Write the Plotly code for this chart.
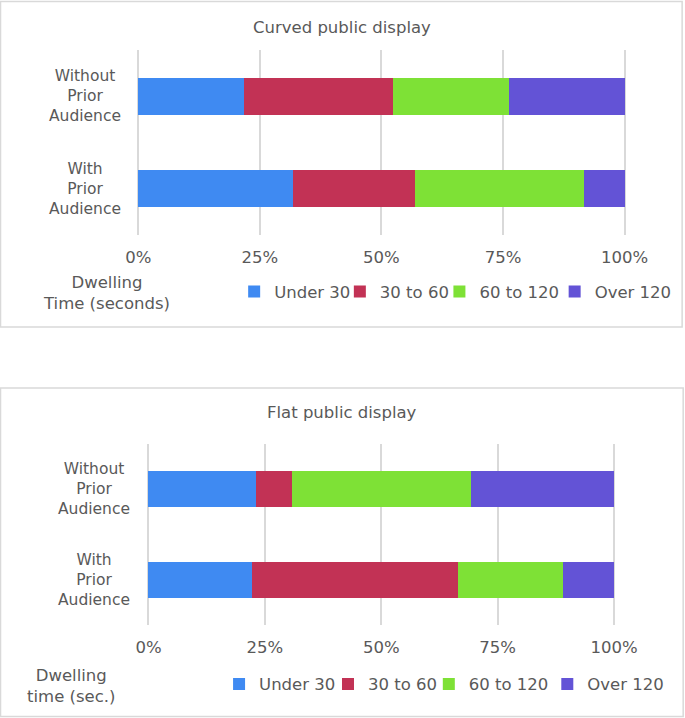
import plotly.graph_objects as go

W, H = 720, 718

categories = ["Without Prior Audience", "With Prior Audience"]
cat_labels = ["Without<br>Prior<br>Audience", "With<br>Prior<br>Audience"]
series_names = ["Under 30", "30 to 60", "60 to 120", "Over 120"]
series_colors = ["#3F8AF2", "#C23255", "#7EE136", "#6353D6"]
tick_vals = [0, 25, 50, 75, 100]
tick_text = ["0%", "25%", "50%", "75%", "100%"]

# percent of visitors, [without prior audience, with prior audience]
curved_under30 = [21.8, 31.8]
curved_30_60 = [30.5, 25.2]
curved_60_120 = [23.9, 34.6]
curved_over120 = [23.8, 8.4]

flat_under30 = [23.0, 22.2]
flat_30_60 = [7.8, 44.4]
flat_60_120 = [38.4, 22.4]
flat_over120 = [30.8, 11.0]

curved = [curved_under30, curved_30_60, curved_60_120, curved_over120]
flat = [flat_under30, flat_30_60, flat_60_120, flat_over120]

TXT = "#595959"
GRID = "#D9D9D9"
FONT = "DejaVu Sans"

# legend swatch centres (px)
leg_x_top = [275.5, 386.1, 490.3, 610.9]
leg_x_bot = [259.7, 373.7, 479.2, 603.2]


def px(x):
    return x / W


def py(y):
    return 1 - y / H


fig = go.Figure()

legends = {}
for i, (vals, name, col) in enumerate(zip(curved, series_names, series_colors)):
    key = "legend" if i == 0 else f"legend{i + 1}"
    fig.add_trace(go.Bar(
        y=categories, x=vals, name=name, orientation="h",
        marker=dict(color=col, line=dict(width=0)),
        xaxis="x", yaxis="y", legend=key,
    ))
    legends[key] = dict(x=px(leg_x_top[i] - 29.4), y=py(291.7))

for i, (vals, name, col) in enumerate(zip(flat, series_names, series_colors)):
    key = f"legend{i + 5}"
    fig.add_trace(go.Bar(
        y=categories, x=vals, name=name, orientation="h",
        marker=dict(color=col, line=dict(width=0)),
        xaxis="x2", yaxis="y2", legend=key,
    ))
    legends[key] = dict(x=px(leg_x_bot[i] - 29.4), y=py(684.3))

for key in legends:
    legends[key].update(orientation="h", xanchor="left", yanchor="middle",
                        font=dict(size=16.5, color=TXT), itemwidth=30,
                        bgcolor="rgba(0,0,0,0)")

xcommon = dict(
    tickmode="array", tickvals=tick_vals, ticktext=tick_text,
    showgrid=True, gridcolor=GRID, gridwidth=1.5,
    zeroline=False, showline=False,
    ticks="outside", ticklen=7.5, tickcolor="rgba(0,0,0,0)",
    tickfont=dict(size=16.5, color=TXT),
)
ycommon = dict(
    categoryorder="array", categoryarray=categories, autorange="reversed",
    showticklabels=False, showgrid=False, zeroline=False, showline=False,
)

annotations = [
    dict(text="Curved public display", x=px(359.0), y=py(27.5)),
    dict(text="Flat public display", x=px(359.2), y=py(412.7)),
    dict(text="Dwelling<br>Time (seconds)", x=px(112.2), y=py(293)),
    dict(text="Dwelling<br>time (sec.)", x=px(75.5), y=py(685.5)),
]
for a in annotations:
    a.update(xref="paper", yref="paper", showarrow=False, align="center",
             xanchor="center", yanchor="middle",
             font=dict(size=16.5, color=TXT, family=FONT))

for cat, lab in zip(categories, cat_labels):
    annotations.append(dict(text=lab, x=px(90.1), y=cat, xref="paper", yref="y",
                            showarrow=False, align="center", xanchor="center",
                            yanchor="middle", font=dict(size=15.5, color=TXT, family=FONT)))
    annotations.append(dict(text=lab, x=px(99.6), y=cat, xref="paper", yref="y2",
                            showarrow=False, align="center", xanchor="center",
                            yanchor="middle", font=dict(size=15.5, color=TXT, family=FONT)))

shapes = [
    dict(type="rect", xref="paper", yref="paper",
         x0=px(1.6), x1=px(714.9), y0=py(327), y1=py(1.5),
         line=dict(color=GRID, width=1.5)),
    dict(type="rect", xref="paper", yref="paper",
         x0=px(1.6), x1=px(716), y0=py(716.5), y1=py(388),
         line=dict(color=GRID, width=1.5)),
]

# x range padded a hair so the 0% and 100% gridlines are kept
fig.update_layout(
    width=W, height=H,
    margin=dict(l=0, r=0, t=0, b=0),
    paper_bgcolor="white", plot_bgcolor="white",
    font=dict(family=FONT, color=TXT, size=16.5),
    showlegend=True,
    barmode="stack", bargap=0.6,
    xaxis=dict(domain=[px(143.2), px(657.2)], anchor="y", range=[-0.5, 100.5], **xcommon),
    yaxis=dict(domain=[py(235), py(50)], anchor="x", **ycommon),
    xaxis2=dict(domain=[px(154.0), px(646.0)], anchor="y2", range=[-0.5, 100.5], **xcommon),
    yaxis2=dict(domain=[py(625), py(444)], anchor="x2", **ycommon),
    annotations=annotations,
    shapes=shapes,
    **legends,
)

fig.write_html(
    "out.html",
    config={"displayModeBar": False},
    post_script=("document.body.style.margin='0';"
                 "document.body.style.marginLeft='-12px';"
                 "document.body.style.overflow='hidden';"),
)
